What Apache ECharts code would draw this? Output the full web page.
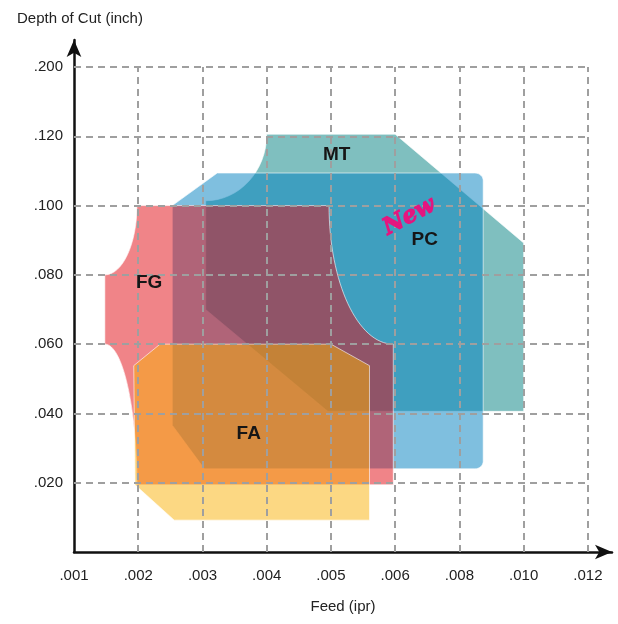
<!DOCTYPE html>
<html>
<head>
<meta charset="utf-8">
<script src="https://cdn.jsdelivr.net/npm/echarts@6/dist/echarts.min.js"></script>
<style>
  html, body { margin: 0; padding: 0; background: #ffffff; }
  #chart { width: 618px; height: 624px; }
</style>
</head>
<body>
<div id="chart"></div>
<script>
// Tick labels (ordinal axes: label i sits at position i)
const feedLabels = ['.001', '.002', '.003', '.004', '.005', '.006', '.008', '.010', '.012'];
const depthLabels = ['', '.020', '.040', '.060', '.080', '.100', '.120', '.200'];

// Region outlines in axis positions [feedPos, depthPos, corner]; corner 1 = curved corner control
const mtOutline = [[2.05, 3.5, 0], [2.05, 5.07, 0], [3.0, 5.07, 1], [3.0, 6.03, 0], [5.0, 6.03, 0], [7.0, 4.46, 0], [7.0, 2.03, 0], [3.95, 2.03, 0]];
const pcOutline = [[1.53, 5.0, 0], [2.23, 5.47, 0], [6.24, 5.47, 0], [6.37, 5.47, 1], [6.37, 5.36, 0], [6.37, 1.31, 0], [6.37, 1.2, 1], [6.24, 1.2, 0], [2.03, 1.2, 0], [1.53, 1.83, 0]];
const fgOutline = [[4.97, 0.97, 0], [4.97, 3.0, 0], [3.97, 3.0, 1], [3.97, 5.0, 0], [0.98, 5.0, 0], [0.98, 4.0, 1], [0.48, 4.0, 0], [0.48, 3.0, 0], [0.98, 3.0, 1], [0.98, 0.97, 0]];
const faOutline = [[1.34, 3.0, 0], [4.0, 3.0, 0], [4.6, 2.69, 0], [4.6, 0.46, 0], [1.56, 0.46, 0], [0.95, 0.97, 0], [0.93, 2.69, 0]];

const regionNames = ['MT', 'PC', 'FG', 'FA'];
const regionOutlines = [mtOutline, pcOutline, fgOutline, faOutline];
const regionColors = ['rgba(0,128,128,0.5)', 'rgba(0,128,192,0.5)', 'rgba(225,10,18,0.5)', 'rgba(249,177,8,0.5)'];

// Label anchor positions
const labelPos = [[4.09, 5.74], [5.46, 4.5], [1.17, 3.88], [2.72, 1.71]];
const newPos = [5.22, 4.84];

const chart = echarts.init(document.getElementById('chart'), null, { renderer: 'canvas' });

function isInt(v) { return Math.abs(v - Math.round(v)) < 1e-6; }

const gridLines = [];
for (let i = 1; i <= 7; i++) gridLines.push([{ coord: [0, i] }, { coord: [8, i] }]);
for (let i = 1; i <= 8; i++) gridLines.push([{ coord: [i, 0] }, { coord: [i, 7] }]);

function renderRegion(params, api) {
  const idx = api.value(0);
  const outline = regionOutlines[idx];
  const pts = outline.map(p => ({ pt: api.coord([p[0], p[1]]), c: p[2] }));
  const n = pts.length;
  const k = 0.5523;
  let d = 'M' + pts[0].pt[0] + ' ' + pts[0].pt[1];
  let i = 1;
  while (i < n) {
    const p = pts[i];
    if (p.c === 1) {
      const prev = pts[i - 1].pt;
      const next = pts[(i + 1) % n].pt;
      const c1 = [prev[0] + k * (p.pt[0] - prev[0]), prev[1] + k * (p.pt[1] - prev[1])];
      const c2 = [next[0] + k * (p.pt[0] - next[0]), next[1] + k * (p.pt[1] - next[1])];
      d += ' C' + c1[0] + ' ' + c1[1] + ' ' + c2[0] + ' ' + c2[1] + ' ' + next[0] + ' ' + next[1];
      i += 2;
    } else {
      d += ' L' + p.pt[0] + ' ' + p.pt[1];
      i += 1;
    }
  }
  d += ' Z';
  return {
    type: 'path',
    shape: { pathData: d },
    style: { fill: regionColors[idx], stroke: 'rgba(255,255,255,0.6)', lineWidth: 1 }
  };
}

function renderLabel(params, api) {
  const idx = api.value(2);
  const pt = api.coord([api.value(0), api.value(1)]);
  const isNew = idx === 4;
  const style = {
    text: isNew ? 'New' : regionNames[idx],
    align: 'center', verticalAlign: 'middle',
    font: isNew ? 'italic bold 23px "DejaVu Serif", "Liberation Serif", serif'
                : 'bold 19px "Liberation Sans", Arial, sans-serif',
    fill: isNew ? '#e5157f' : '#161616'
  };
  if (isNew) { style.stroke = '#e5157f'; style.lineWidth = 1.2; }
  return {
    type: 'text',
    x: pt[0], y: pt[1],
    rotation: isNew ? 28 * Math.PI / 180 : 0,
    style: style
  };
}

const labelData = labelPos.map((p, i) => [p[0], p[1], i]);
labelData.push([newPos[0], newPos[1], 4]);

const option = {
  animation: false,
  title: {
    text: 'Depth of Cut (inch)',
    left: 12, top: 6,
    textStyle: { fontFamily: '"Liberation Sans", Arial, sans-serif', fontSize: 15, fontWeight: 'normal', color: '#222' }
  },
  grid: { left: 74, right: 6, top: 40, bottom: 72, containLabel: false },
  xAxis: {
    type: 'value', min: 0, max: 8.375, interval: 1,
    name: 'Feed (ipr)', nameLocation: 'middle', nameGap: 47,
    nameTextStyle: { fontFamily: '"Liberation Sans", Arial, sans-serif', fontSize: 15, color: '#222' },
    axisLine: { show: true, symbol: ['none', 'arrow'], symbolSize: [11, 17], lineStyle: { color: '#111', width: 2.5 } },
    axisTick: { show: false },
    splitLine: { show: false },
    axisLabel: {
      margin: 16, fontFamily: '"Liberation Sans", Arial, sans-serif', fontSize: 15, color: '#222', hideOverlap: false,
      formatter: v => (isInt(v) ? (feedLabels[Math.round(v)] || '') : '')
    }
  },
  yAxis: {
    type: 'value', min: 0, max: 7.39, interval: 1,
    axisLine: { show: true, symbol: ['none', 'arrow'], symbolSize: [11, 17], lineStyle: { color: '#111', width: 2.5 } },
    axisTick: { show: false },
    splitLine: { show: false },
    axisLabel: {
      margin: 11, fontFamily: '"Liberation Sans", Arial, sans-serif', fontSize: 15, color: '#222', hideOverlap: false,
      formatter: v => (isInt(v) ? (depthLabels[Math.round(v)] || '') : '')
    }
  },
  series: [
    {
      type: 'line', data: [], z: 1, silent: true,
      markLine: {
        silent: true, symbol: ['none', 'none'], animation: false,
        label: { show: false },
        lineStyle: { color: '#9f9f9f', width: 2, type: [7, 5] },
        data: gridLines
      }
    },
    {
      type: 'custom', z: 3, silent: true,
      renderItem: renderRegion,
      data: regionNames.map((n, i) => [i]),
      encode: { x: -1, y: -1 }
    },
    {
      type: 'custom', z: 5, silent: true,
      renderItem: renderLabel,
      data: labelData,
      encode: { x: 0, y: 1 }
    }
  ]
};

chart.setOption(option);
</script>
</body>
</html>
